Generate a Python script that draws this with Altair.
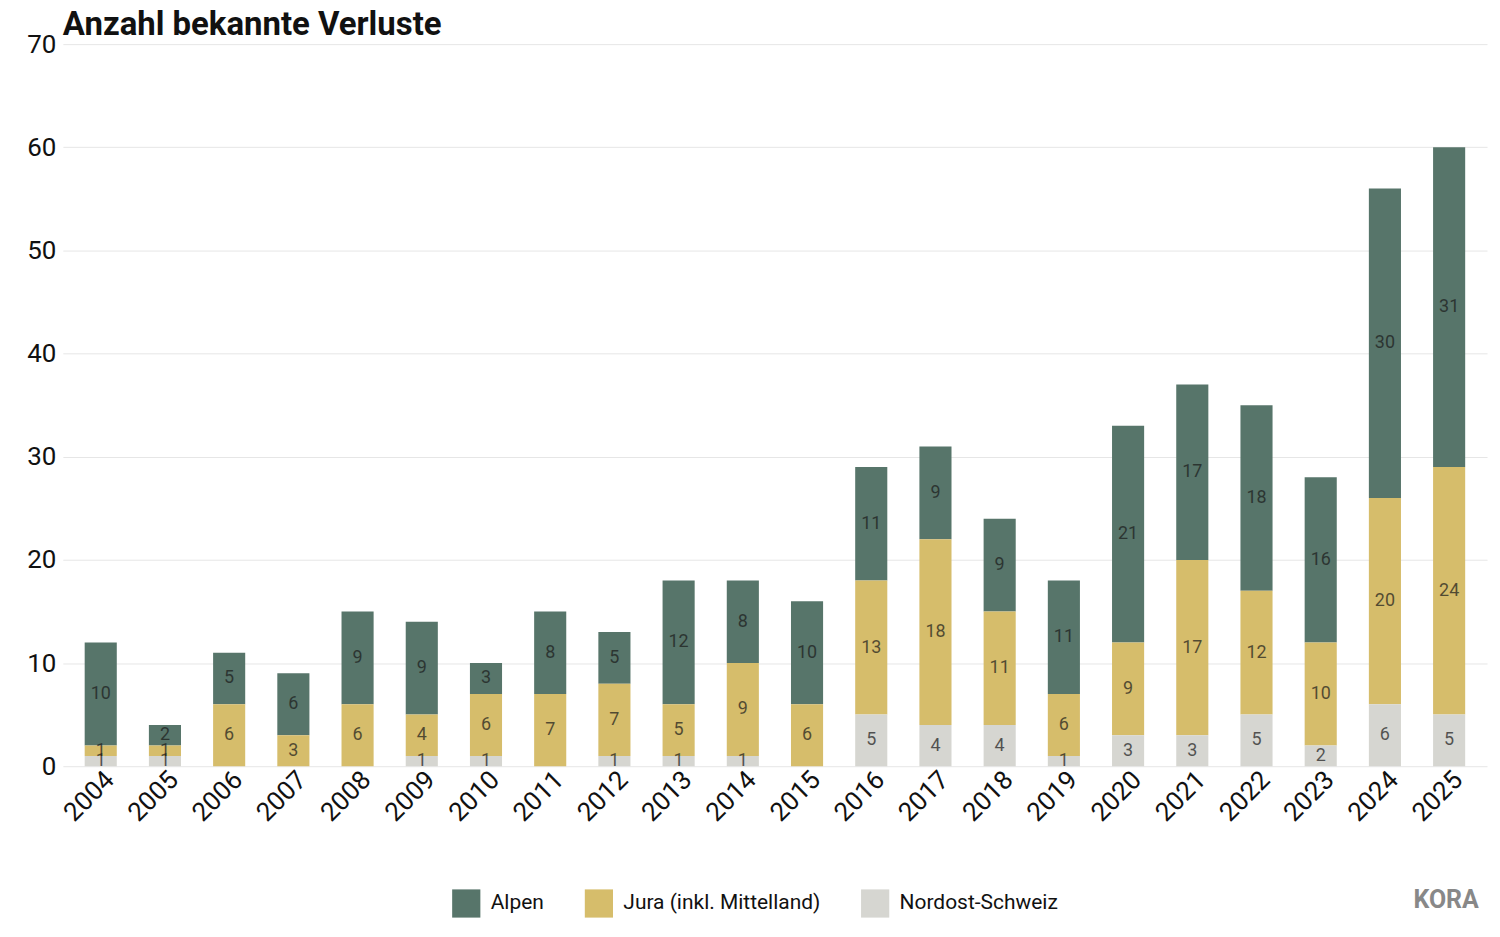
import altair as alt
import pandas as pd

years = [str(y) for y in range(2004, 2026)]
regions = ["Alpen", "Jura (inkl. Mittelland)", "Nordost-Schweiz"]
colors = ["#57756a", "#d6bd6b", "#d6d6d1"]

alpen = [10, 2, 5, 6, 9, 9, 3, 8, 5, 12, 8, 10, 11, 9, 9, 11, 21, 17, 18, 16, 30, 31]
jura = [1, 1, 6, 3, 6, 4, 6, 7, 7, 5, 9, 6, 13, 18, 11, 6, 9, 17, 12, 10, 20, 24]
nordost = [1, 1, 0, 0, 0, 1, 1, 0, 1, 1, 1, 0, 5, 4, 4, 1, 3, 3, 5, 2, 6, 5]

rows = []
for i, y in enumerate(years):
    for order, (reg, vals) in enumerate(zip(regions, [alpen, jura, nordost])):
        rows.append({"year": y, "region": reg, "value": vals[i], "order": 2 - order})
df = pd.DataFrame(rows)

base = alt.Chart(df).transform_stack(
    stack="value", groupby=["year"], as_=["y0", "y1"],
    sort=[alt.SortField("order", order="ascending")]
).transform_calculate(mid="(datum.y0 + datum.y1) / 2")

xenc = alt.X("year:N", title=None, sort=years,
             scale=alt.Scale(paddingInner=0.5, paddingOuter=0.34),
             axis=alt.Axis(labelAngle=-45, labelFontSize=26, labelColor="#111",
                           ticks=False, domain=False, labelPadding=0))

bars = base.mark_bar().encode(
    x=xenc,
    y=alt.Y("y0:Q", title=None, scale=alt.Scale(domain=[0, 70]),
            axis=alt.Axis(values=list(range(0, 71, 10)), labelFontSize=26, labelColor="#111",
                          ticks=False, domain=False, gridColor="#e6e6e6", labelPadding=7)),
    y2="y1:Q",
    color=alt.Color("region:N", scale=alt.Scale(domain=regions, range=colors),
                    legend=alt.Legend(title=None, orient="none", direction="horizontal",
                                      legendX=390, legendY=847, symbolType="square",
                                      symbolSize=800, symbolStrokeWidth=0, symbolOpacity=1,
                                      labelFontSize=21, labelColor="#111", columnPadding=40,
                                      labelOffset=10, labelLimit=0)),
)

labels = base.transform_filter("datum.value > 0").mark_text(
    fontSize=18, color="#1a1a1a", opacity=0.7
).encode(
    x=alt.X("year:N", sort=years),
    y="mid:Q",
    text="value:Q",
)

kora = alt.Chart(pd.DataFrame({"t": ["KORA"]})).mark_text(
    fontSize=25, fontWeight="bold", color="#888", align="center", baseline="middle"
).encode(text="t:N", x=alt.value(1387), y=alt.value(858))

chart = alt.layer(bars, labels, kora).properties(
    width=1428, height=724,
    title=alt.TitleParams("Anzahl bekannte Verluste", anchor="start", frame="group",
                          fontSize=33, fontWeight="bold", color="#111", offset=-11),
    padding={"left": 18, "top": 0, "right": 5, "bottom": 5},
).configure(font="Roboto").configure_view(stroke=None)

chart.save("out.html", embed_options={"renderer": "svg", "actions": False})
